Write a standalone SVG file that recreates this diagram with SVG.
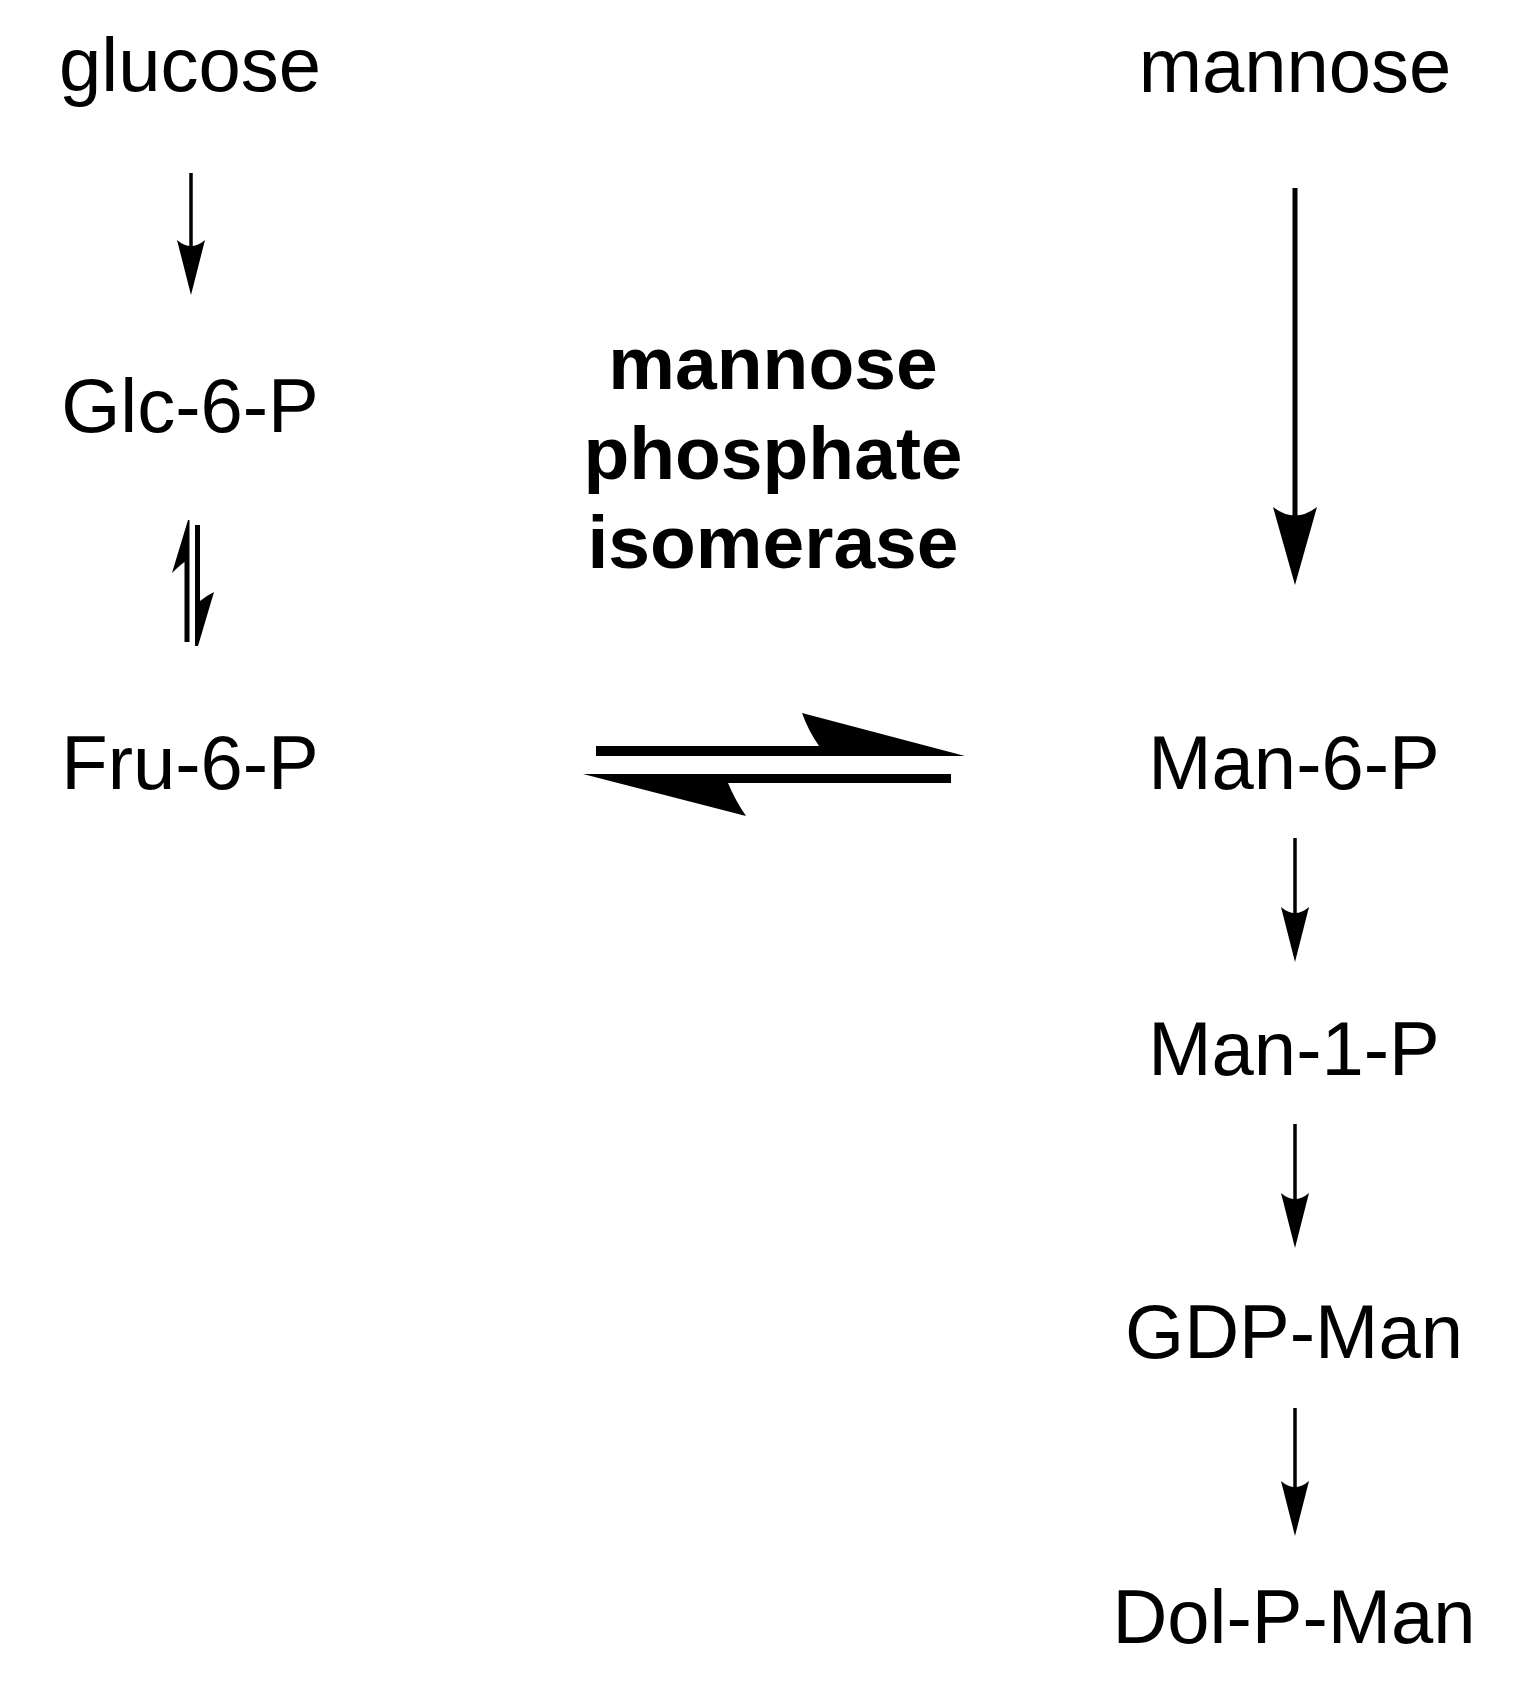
<svg xmlns="http://www.w3.org/2000/svg" width="1527" height="1695" viewBox="0 0 1527 1695">
<style>
.t{font-family:"Liberation Sans",Arial,sans-serif;font-size:76px;fill:#000;text-anchor:middle}
.b{font-weight:bold;font-size:75px}
.ln{stroke:#000;fill:none}
.s{stroke-width:3.5}
.k{stroke-width:5}
.f{fill:#000;stroke:none}
</style>
<defs>
<marker id="ah" markerUnits="userSpaceOnUse" markerWidth="60" markerHeight="30" viewBox="0 0 60 30" refX="8" refY="15" orient="auto">
<path d="M55,15 L0,1 Q12,15 0,29 Z" fill="#000"/>
</marker>
<marker id="ahb" markerUnits="userSpaceOnUse" markerWidth="84" markerHeight="46" viewBox="0 0 84 46" refX="11" refY="23" orient="auto">
<path d="M78,23 L0,1 Q17,23 0,45 Z" fill="#000"/>
</marker>
</defs>
<rect width="1527" height="1695" fill="#fff"/>
<g id="n-glucose"><text class="t" x="190" y="91">glucose</text></g>
<g id="n-glc6p"><text class="t" x="190" y="432">Glc-6-P</text></g>
<g id="n-fru6p"><text class="t" x="190" y="789">Fru-6-P</text></g>
<g id="n-mpi"><text class="t b" x="773" y="389">mannose</text><text class="t b" x="773" y="479">phosphate</text><text class="t b" x="773" y="568">isomerase</text></g>
<g id="n-mannose"><text class="t" x="1295" y="92">mannose</text></g>
<g id="n-man6p"><text class="t" x="1294" y="789">Man-6-P</text></g>
<g id="n-man1p"><text class="t" x="1294" y="1075">Man-1-P</text></g>
<g id="n-gdpman"><text class="t" x="1294" y="1358">GDP-Man</text></g>
<g id="n-dolpman"><text class="t" x="1294" y="1643">Dol-P-Man</text></g>
<g id="connectors">
<line class="ln s" x1="191" y1="173" x2="191" y2="248" marker-end="url(#ah)"/>
<line class="ln k" x1="1295" y1="188" x2="1295" y2="518" marker-end="url(#ahb)"/>
<line class="ln s" x1="1295" y1="838" x2="1295" y2="915" marker-end="url(#ah)"/>
<line class="ln s" x1="1295" y1="1124" x2="1295" y2="1201" marker-end="url(#ah)"/>
<line class="ln s" x1="1295" y1="1408" x2="1295" y2="1489" marker-end="url(#ah)"/>
<path class="f" d="M184.5,642 L189.5,642 L189.5,520 L188,520 L172,573 Q179,566 184.5,562 Z"/>
<path class="f" d="M195,525 L200,525 L200,601 Q206,596 214,592 L198,646 L195,646 Z"/>
<path class="f" d="M596,746 L819,746 Q808,730 802,713 L965,756 L596,756 Z"/>
<path class="f" d="M951,774 L583,774 L746,816 Q735,800 728,783 L951,783 Z"/>
</g>
</svg>
